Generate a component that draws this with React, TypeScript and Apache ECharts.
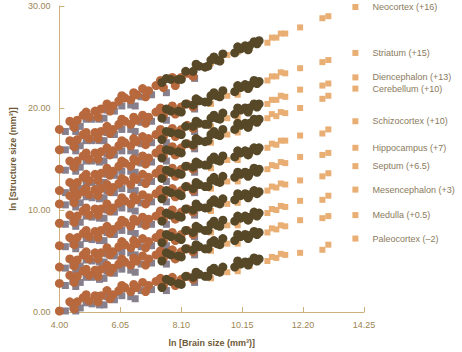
import React, { useEffect, useRef } from 'react';
import * as echarts from 'echarts';

const structureNames = [
  'Neocortex (+16)',
  'Striatum (+15)',
  'Diencephalon (+13)',
  'Cerebellum (+10)',
  'Schizocortex (+10)',
  'Hippocampus (+7)',
  'Septum (+6.5)',
  'Mesencephalon (+3)',
  'Medulla (+0.5)',
  'Paleocortex (–2)',
];

const xTicks = [4, 6.05, 8.1, 10.15, 12.2, 14.25];

// ln brain size of each species, by group
const insectivoreX = [4.2, 4.45, 4.7, 4.9, 5.1, 5.35, 5.6, 5.85, 6.1, 6.4, 6.75, 7.1, 7.6, 4.55, 5.0, 5.5, 6.0, 6.55, 8.55];
const prosimianX = [4.0, 4.35, 4.6, 4.8, 5.0, 5.2, 5.4, 5.6, 5.8, 6.0, 6.2, 6.4, 6.6, 6.8, 7.0, 7.25, 7.5, 7.8, 8.1, 8.5, 4.5, 4.9, 5.3, 5.7, 6.1, 6.5, 6.9, 7.4, 7.9, 8.3];
const simianX = [7.45, 7.75, 8.0, 8.25, 8.5, 8.7, 8.9, 9.1, 9.3, 9.5, 9.9, 10.1, 10.25, 10.4, 10.55, 10.72, 7.6, 8.1, 8.6, 9.0, 9.2, 9.4, 10.0, 10.35, 10.65];
const hominoidX = [9.1, 9.65, 10.0, 10.4, 11.0, 11.15, 11.3, 11.45, 11.6, 12.1, 12.85, 13.05];
const humanX = 13.96;

// one row per structure (same order as structureNames)
const insectivoreY = [
  [17.7, 18.2, 18.2, 18.9, 18.9, 18.9, 19.8, 19.7, 20.2, 20.3, 21.1, 21.3, 21.5, 17.7, 19.1, 19.0, 20.5, 20.2, 22.9],
  [15.9, 16.3, 16.3, 16.8, 16.8, 16.8, 17.6, 17.4, 17.9, 17.9, 18.6, 18.7, 18.8, 15.8, 17.0, 16.8, 18.2, 17.7, 19.9],
  [13.9, 14.3, 14.2, 14.8, 14.8, 14.7, 15.5, 15.4, 15.8, 15.8, 16.5, 16.6, 16.6, 13.8, 15.0, 14.8, 16.1, 15.6, 17.7],
  [11.7, 12.2, 12.1, 12.7, 12.7, 12.7, 13.5, 13.4, 13.8, 13.8, 14.6, 14.7, 14.8, 11.7, 12.9, 12.7, 14.1, 13.7, 16.0],
  [10.5, 10.8, 10.7, 11.3, 11.2, 11.1, 11.9, 11.7, 12.1, 12.0, 12.7, 12.8, 12.8, 10.3, 11.5, 11.2, 12.4, 11.9, 13.7],
  [8.6, 8.9, 8.8, 9.4, 9.3, 9.2, 10.0, 9.8, 10.2, 10.1, 10.7, 10.8, 10.8, 8.4, 9.5, 9.2, 10.5, 9.9, 11.7],
  [6.4, 6.7, 6.6, 7.2, 7.1, 7.0, 7.8, 7.6, 8.0, 7.9, 8.6, 8.6, 8.6, 6.2, 7.4, 7.0, 8.3, 7.7, 9.5],
  [4.3, 4.6, 4.5, 5.1, 5.0, 4.9, 5.7, 5.5, 5.9, 5.8, 6.4, 6.5, 6.5, 4.1, 5.2, 4.9, 6.2, 5.6, 7.4],
  [2.6, 3.0, 2.9, 3.4, 3.4, 3.2, 4.0, 3.8, 4.2, 4.1, 4.7, 4.8, 4.7, 2.5, 3.6, 3.3, 4.5, 3.9, 5.6],
  [0.1, 0.5, 0.4, 0.9, 0.8, 0.7, 1.5, 1.2, 1.6, 1.5, 2.1, 2.2, 2.1, 0.1, 1.1, 0.7, 1.9, 1.3, 2.9],
];

const prosimianY = [
  [17.9, 18.7, 18.8, 19.3, 19.1, 19.7, 19.9, 20.4, 20.2, 20.7, 21.0, 20.8, 21.3, 21.9, 21.7, 22.2, 22.0, 23.0, 23.0, 23.1, 18.1, 19.6, 19.1, 19.7, 21.2, 21.5, 21.1, 22.7, 22.2, 23.4],
  [15.9, 16.8, 16.9, 17.4, 17.0, 17.6, 17.7, 18.2, 17.9, 18.4, 18.7, 18.4, 18.8, 19.3, 19.1, 19.6, 19.3, 20.2, 20.1, 20.1, 16.2, 17.6, 17.0, 17.5, 18.9, 19.1, 18.5, 20.0, 19.4, 20.4],
  [14.0, 14.8, 14.8, 15.3, 15.0, 15.6, 15.7, 16.1, 15.8, 16.3, 16.6, 16.3, 16.7, 17.2, 17.0, 17.4, 17.2, 18.0, 17.9, 18.0, 14.2, 15.6, 15.0, 15.4, 16.8, 17.0, 16.4, 17.9, 17.2, 18.3],
  [11.9, 12.7, 12.7, 13.2, 12.9, 13.5, 13.6, 14.1, 13.8, 14.3, 14.6, 14.3, 14.8, 15.3, 15.1, 15.6, 15.3, 16.2, 16.1, 16.3, 12.0, 13.5, 12.9, 13.4, 14.8, 15.0, 14.5, 16.0, 15.4, 16.5],
  [10.6, 11.4, 11.4, 11.8, 11.5, 12.0, 12.1, 12.5, 12.2, 12.6, 12.9, 12.5, 13.0, 13.5, 13.2, 13.6, 13.3, 14.1, 14.0, 14.0, 10.7, 12.1, 11.4, 11.8, 13.1, 13.2, 12.6, 14.0, 13.3, 14.3],
  [8.7, 9.5, 9.4, 9.9, 9.5, 10.1, 10.1, 10.6, 10.2, 10.7, 10.9, 10.6, 11.0, 11.5, 11.2, 11.6, 11.3, 12.1, 11.9, 11.9, 8.8, 10.2, 9.5, 9.9, 11.2, 11.3, 10.6, 12.0, 11.3, 12.3],
  [6.5, 7.3, 7.3, 7.7, 7.4, 7.9, 8.0, 8.4, 8.1, 8.5, 8.8, 8.4, 8.9, 9.3, 9.1, 9.4, 9.1, 10.0, 9.8, 9.8, 6.6, 8.0, 7.3, 7.7, 9.0, 9.1, 8.5, 9.9, 9.1, 10.1],
  [4.4, 5.2, 5.1, 5.6, 5.2, 5.8, 5.8, 6.3, 5.9, 6.4, 6.6, 6.3, 6.7, 7.2, 6.9, 7.3, 7.0, 7.8, 7.6, 7.6, 4.5, 5.9, 5.2, 5.6, 6.9, 7.0, 6.3, 7.7, 7.0, 8.0],
  [2.8, 3.6, 3.5, 4.0, 3.6, 4.1, 4.2, 4.6, 4.3, 4.7, 4.9, 4.6, 5.0, 5.5, 5.2, 5.6, 5.3, 6.1, 5.9, 5.9, 2.9, 4.2, 3.5, 3.9, 5.2, 5.3, 4.6, 6.0, 5.2, 6.2],
  [0.1, 1.0, 1.0, 1.4, 1.1, 1.6, 1.6, 2.1, 1.7, 2.1, 2.4, 2.0, 2.4, 2.9, 2.6, 3.0, 2.6, 3.4, 3.2, 3.2, 0.3, 1.7, 1.0, 1.3, 2.6, 2.7, 2.0, 3.3, 2.6, 3.5],
];

const simianY = [
  [22.5, 22.8, 22.8, 23.6, 23.6, 24.1, 24.0, 24.7, 24.7, 25.3, 25.4, 25.8, 26.1, 26.1, 26.5, 26.6, 22.9, 22.8, 24.3, 24.1, 25.0, 24.6, 26.0, 25.7, 26.3],
  [19.0, 19.7, 19.7, 20.4, 20.3, 20.7, 20.6, 21.2, 21.2, 21.7, 21.6, 22.0, 22.3, 22.2, 22.7, 22.6, 19.9, 19.6, 20.9, 20.6, 21.5, 21.1, 22.2, 21.9, 22.4],
  [16.9, 17.6, 17.5, 18.2, 18.2, 18.5, 18.4, 19.0, 19.0, 19.5, 19.4, 19.8, 20.0, 20.0, 20.4, 20.4, 17.7, 17.4, 18.7, 18.4, 19.3, 18.9, 20.0, 19.6, 20.1],
  [15.1, 15.8, 15.7, 16.5, 16.4, 16.8, 16.7, 17.4, 17.4, 17.9, 17.9, 18.3, 18.5, 18.5, 18.9, 18.9, 15.9, 15.6, 17.0, 16.8, 17.7, 17.3, 18.5, 18.1, 18.6],
  [13.1, 13.7, 13.6, 14.3, 14.2, 14.5, 14.4, 14.9, 14.9, 15.3, 15.2, 15.6, 15.8, 15.7, 16.1, 16.1, 13.9, 13.5, 14.7, 14.4, 15.2, 14.8, 15.8, 15.4, 15.8],
  [11.1, 11.7, 11.6, 12.3, 12.1, 12.5, 12.3, 12.9, 12.8, 13.3, 13.2, 13.5, 13.7, 13.6, 14.1, 14.0, 11.9, 11.4, 12.7, 12.3, 13.2, 12.7, 13.7, 13.3, 13.7],
  [8.9, 9.5, 9.4, 10.1, 10.0, 10.3, 10.2, 10.7, 10.7, 11.1, 11.0, 11.4, 11.6, 11.5, 11.9, 11.8, 9.7, 9.3, 10.6, 10.2, 11.0, 10.6, 11.6, 11.2, 11.6],
  [6.8, 7.4, 7.3, 8.0, 7.8, 8.2, 8.0, 8.6, 8.5, 9.0, 8.9, 9.2, 9.4, 9.3, 9.8, 9.7, 7.6, 7.1, 8.4, 8.0, 8.9, 8.4, 9.4, 9.0, 9.4],
  [5.0, 5.6, 5.5, 6.2, 6.1, 6.4, 6.2, 6.8, 6.7, 7.2, 7.0, 7.4, 7.6, 7.5, 7.9, 7.8, 5.8, 5.4, 6.6, 6.2, 7.0, 6.6, 7.6, 7.2, 7.6],
  [2.4, 3.0, 2.8, 3.5, 3.4, 3.7, 3.5, 4.1, 4.0, 4.4, 4.4, 4.7, 4.9, 4.9, 5.3, 5.2, 3.2, 2.7, 3.9, 3.5, 4.3, 3.9, 5.0, 4.6, 5.0],
];

const hominoidY = [
  [24.4, 25.2, 25.5, 25.9, 26.4, 26.9, 26.9, 27.3, 27.3, 27.9, 28.8, 29.0],
  [20.4, 21.2, 21.3, 22.0, 22.7, 23.1, 23.1, 23.5, 23.4, 23.9, 24.5, 24.7],
  [18.2, 19.0, 19.1, 19.8, 20.4, 20.8, 20.8, 21.2, 21.1, 21.8, 22.2, 22.4],
  [16.6, 17.4, 17.6, 18.3, 19.0, 19.4, 19.2, 19.6, 19.5, 20.0, 20.9, 21.2],
  [14.1, 14.9, 14.9, 15.5, 16.1, 16.5, 16.4, 16.8, 16.8, 17.3, 17.5, 17.9],
  [12.1, 12.8, 12.8, 13.4, 14.0, 14.4, 14.3, 14.7, 14.6, 15.2, 15.4, 15.6],
  [9.9, 10.6, 10.7, 11.3, 11.9, 12.3, 12.2, 12.6, 12.5, 12.9, 13.3, 13.6],
  [7.8, 8.5, 8.5, 9.1, 9.7, 10.1, 10.0, 10.4, 10.3, 10.9, 11.0, 11.4],
  [6.0, 6.7, 6.7, 7.3, 7.8, 8.2, 8.1, 8.5, 8.4, 9.0, 9.2, 9.4],
  [3.3, 3.9, 4.0, 4.5, 5.0, 5.4, 5.3, 5.7, 5.6, 5.8, 6.1, 6.6],
];

const humanY = [29.9, 25.4, 23.0, 21.9, 18.7, 16.1, 14.3, 12.0, 9.5, 7.2];

const FONT = '"Liberation Sans", Arial, Helvetica, sans-serif';
const AXIS_COLOR = '#cdb07a';
const TICK_TEXT = '#9c8654';
const NAME_TEXT = '#6e5a38';

function toPoints(xs: number[], rows: number[][]) {
  const out: number[][] = [];
  rows.forEach((row) => row.forEach((y, i) => out.push([xs[i], y])));
  return out;
}

export default function App() {
  const ref = useRef<HTMLDivElement>(null);

  useEffect(() => {
    if (!ref.current) return;
    const chart = echarts.init(ref.current, null, { renderer: 'svg' });
    chart.setOption({
      animation: false,
      backgroundColor: '#ffffff',
      grid: { left: 58, right: 98, top: 6, bottom: 40 },
      xAxis: {
        type: 'value',
        min: 4,
        max: 14.25,
        name: 'ln [Brain size (mm³)]',
        nameLocation: 'middle',
        nameGap: 26,
        nameTextStyle: { color: NAME_TEXT, fontSize: 9, fontWeight: 'bold', fontFamily: FONT },
        axisLine: { show: true, lineStyle: { color: AXIS_COLOR, width: 1 } },
        axisTick: { show: true, inside: true, length: 5, customValues: xTicks, lineStyle: { color: AXIS_COLOR } },
        axisLabel: {
          customValues: xTicks,
          formatter: (v: number) => v.toFixed(2),
          color: TICK_TEXT,
          fontSize: 9,
          margin: 8,
          fontFamily: FONT,
        },
        splitLine: { show: false },
      },
      yAxis: {
        type: 'value',
        min: 0,
        max: 30,
        interval: 10,
        name: 'ln [Structure size (mm³)]',
        nameLocation: 'middle',
        nameGap: 40,
        nameTextStyle: { color: NAME_TEXT, fontSize: 9, fontWeight: 'bold', fontFamily: FONT },
        axisLine: { show: true, lineStyle: { color: AXIS_COLOR, width: 1 } },
        axisTick: { show: true, inside: true, length: 5, lineStyle: { color: AXIS_COLOR } },
        axisLabel: {
          formatter: (v: number) => v.toFixed(2),
          color: TICK_TEXT,
          fontSize: 9,
          margin: 9,
          fontFamily: FONT,
        },
        splitLine: { show: false },
      },
      series: [
        {
          type: 'scatter',
          name: 'Hominoids',
          symbol: 'rect',
          symbolSize: 6,
          itemStyle: { color: '#e8ae73', opacity: 1 },
          data: toPoints(hominoidX, hominoidY),
        },
        {
          type: 'scatter',
          name: 'Insectivores',
          symbol: 'rect',
          symbolSize: 7,
          itemStyle: { color: '#877f8c', opacity: 1 },
          data: toPoints(insectivoreX, insectivoreY),
        },
        {
          type: 'scatter',
          name: 'Prosimians',
          symbol: 'circle',
          symbolSize: 9,
          itemStyle: { color: '#b8683d', opacity: 1 },
          data: toPoints(prosimianX, prosimianY),
        },
        {
          type: 'scatter',
          name: 'Simians',
          symbol: 'circle',
          symbolSize: 9,
          itemStyle: { color: '#574828', opacity: 1 },
          data: toPoints(simianX, simianY),
        },
        {
          type: 'scatter',
          name: 'Human',
          symbol: 'rect',
          symbolSize: 6,
          itemStyle: { color: '#e8ae73', opacity: 1 },
          label: {
            show: true,
            position: 'right',
            distance: 14,
            formatter: (p: any) => structureNames[p.dataIndex],
            color: '#8a7a5c',
            fontSize: 9,
            fontFamily: FONT,
          },
          data: humanY.map((y) => [humanX, y]),
        },
      ],
    });
    return () => chart.dispose();
  }, []);

  return (
    <div
      ref={ref}
      style={{ position: 'fixed', left: 0, top: 0, width: 462, height: 352, background: '#fff' }}
    />
  );
}
